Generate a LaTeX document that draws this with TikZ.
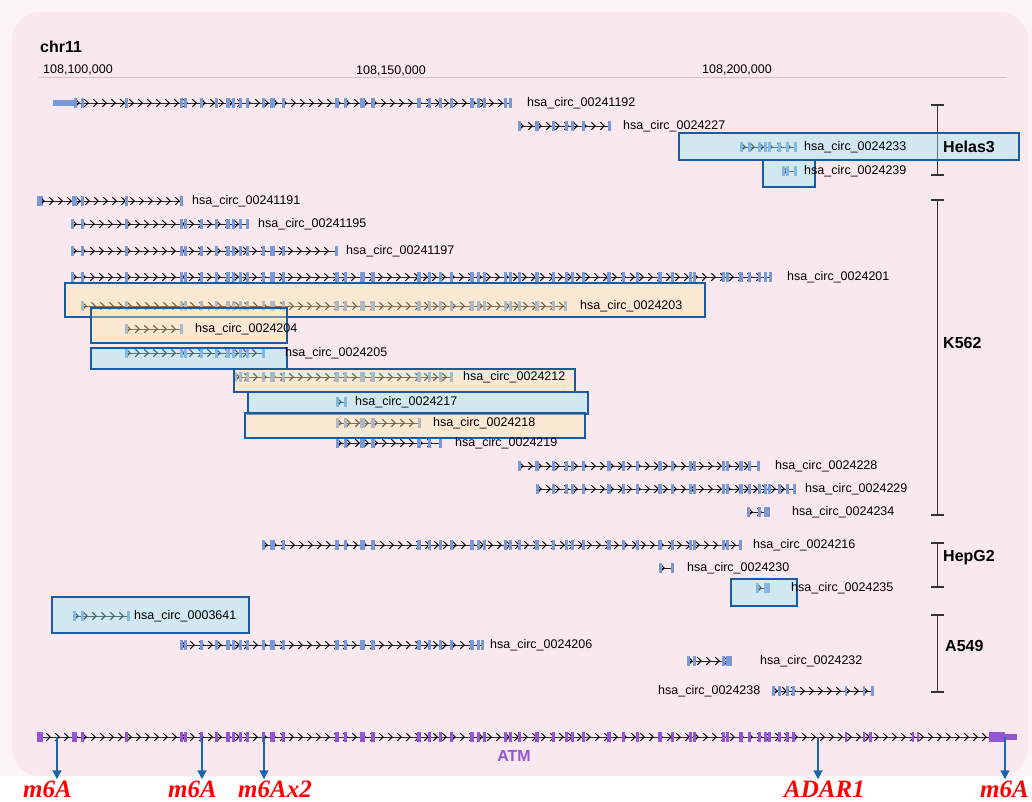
\documentclass[tikz,border=0pt]{standalone}
\usepackage{fontspec}
\setmainfont{Liberation Sans}
\newfontfamily\sitefont{Liberation Serif}
\usetikzlibrary{arrows.meta,decorations.markings}

\definecolor{panelouter}{RGB}{252,244,247}
\definecolor{panelpink}{RGB}{249,233,239}
\definecolor{axisgray}{RGB}{216,192,201}
\definecolor{exonblue}{RGB}{120,152,214}
\definecolor{atmpurple}{RGB}{150,85,210}
\definecolor{boxedge}{RGB}{25,90,160}
\definecolor{boxblue}{RGB}{150,232,246}
\definecolor{boxorange}{RGB}{255,232,170}
\definecolor{sitearrow}{RGB}{30,100,170}

\pgfdeclarelayer{front}
\pgfsetlayers{main,front}

\tikzset{
    track-line/.style = {draw=black!85, line width=0.9pt,
        postaction={decorate, decoration={markings,
            mark=between positions 5pt and -1pt step 9pt with {\arrow[black]{Straight Barb[length=4pt,width=7.5pt,line width=1pt]}}}}},
    exon/.style = {fill=exonblue},
    atm-exon/.style = {fill=atmpurple},
    circ-label/.style = {anchor=west, inner sep=0pt, font=\fontsize{12.5}{14}\selectfont},
    cell-label/.style = {anchor=west, inner sep=0pt, font=\fontsize{16}{18}\selectfont\bfseries},
    axis-label/.style = {anchor=west, inner sep=0pt, font=\fontsize{12.5}{14}\selectfont},
    blue-box/.style = {draw=boxedge, line width=1.4pt, fill=boxblue, fill opacity=0.4},
    orange-box/.style = {draw=boxedge, line width=1.4pt, fill=boxorange, fill opacity=0.4},
    bracket/.style = {draw=black!80, line width=1.6pt},
    site-arrow/.style = {draw=sitearrow, line width=1.5pt, -{Triangle[length=9pt,width=9pt]}},
    site-label/.style = {anchor=base west, inner sep=1pt, text=red, font=\sitefont\bfseries\itshape\fontsize{25}{28}\selectfont},
}

% exon centres / widths along the ATM locus
\newcommand{\atmexons}{74/5,82/3,126/3,181/3,185/3,201/3,216/3,228/4,233/3,240/3,247/3,263/3,272/5,283/3,337/4,345/3,362/5,373/4,419/4,429/3,440/3,451/3,472/4,478/3,484/3,505/3,510/3,519/3,537/4,553/3,566/3,572/3,583/3,609/4,623/3,637/3,660/4,672/3,690/3,694/3,723/3,727/3,741/4,749/3,759/3,765/3,769/3,779/3,787/3,793/3,846/2,864/2,870/3,913/2,918/2}

% #1 id, #2 y, #3 first exon, #4 last exon, #5 label x
\newcommand{\circtrack}[5]{%
    \draw[track-line] (#3,#2) -- (#4,#2);
    \foreach \ex/\w in \atmexons {
        \ifdim \ex pt>\dimexpr #3pt+2pt\relax
            \ifdim \ex pt<\dimexpr #4pt-2pt\relax
                \fill[exon] (\ex-\w/2,#2-5) rectangle (\ex+\w/2,#2+5);
            \fi
        \fi
    }
    \fill[exon] (#3-1.5,#2-5) rectangle (#3+1.5,#2+5);
    \fill[exon] (#4-1.5,#2-5) rectangle (#4+1.5,#2+5);
    \begin{pgfonlayer}{front}
        \node[circ-label] (c#1) at (#5,#2) {hsa\_circ\_#1};
    \end{pgfonlayer}
}

% #1 top, #2 bottom
\newcommand{\cellbracket}[2]{%
    \draw[bracket] (931,#1) -- (944,#1) (937.5,#1) -- (937.5,#2) (931,#2) -- (944,#2);
}

\begin{document}
\begin{tikzpicture}[x=1pt, y=-1pt]
\useasboundingbox (0,0) rectangle (1032,801);
\fill[white] (0,0) rectangle (1032,801);
\fill[panelouter] (0,0) rectangle (1032,776);
\fill[panelpink, rounded corners=28pt] (12,12) rectangle (1028,776);

% chromosome ruler
\node[cell-label] (chrom) at (40,47) {chr11};
\draw[axisgray, line width=1pt] (39,77) -- (1007,77);
\node[axis-label] (pos100) at (43,70) {108,100,000};
\node[axis-label] (pos150) at (356,71) {108,150,000};
\node[axis-label] (pos200) at (702,70) {108,200,000};

% circRNA tracks
\fill[exon] (53,100) rectangle (75,106);
\circtrack{00241192}{103}{75}{510}{527}
\circtrack{0024227}{126}{519}{609}{623}
\circtrack{0024233}{147}{741}{795}{804}
\circtrack{0024239}{171}{783}{795}{804}
\fill[exon] (37,196) rectangle (43,206);
\circtrack{00241191}{201}{40}{181}{192}
\circtrack{00241195}{224}{72}{247}{258}
\circtrack{00241197}{251}{72}{336}{346}
\circtrack{0024201}{277}{72}{770}{787}
\circtrack{0024203}{306}{82}{565}{580}
\circtrack{0024204}{329}{126}{181}{195}
\circtrack{0024205}{353}{126}{263}{285}
\circtrack{0024212}{377}{235}{451}{463}
\circtrack{0024217}{402}{337}{345}{355}
\circtrack{0024218}{423}{337}{419}{433}
\circtrack{0024219}{443}{337}{440}{455}
\circtrack{0024228}{466}{519}{758}{775}
\circtrack{0024229}{489}{537}{794}{805}
\circtrack{0024234}{512}{748}{768}{792}
\circtrack{0024216}{545}{263}{740}{753}
\circtrack{0024230}{568}{660}{672}{687}
\circtrack{0024235}{588}{757}{768}{791}
\circtrack{0003641}{616}{74}{128}{134}
\circtrack{0024206}{645}{181}{482}{490}
\circtrack{0024232}{661}{688}{730}{760}
\circtrack{0024238}{691}{773}{872}{658}

% cell lines
\cellbracket{105}{175}
\cellbracket{200}{515}
\cellbracket{543}{587}
\cellbracket{615}{692}

% highlighted isoforms
\draw[blue-box] (679,133) rectangle (1019,160);
\draw[blue-box] (763,160) rectangle (815,187);
\draw[orange-box] (65,283) rectangle (705,317);
\draw[orange-box] (91,308) rectangle (287,343);
\draw[blue-box] (91,348) rectangle (287,369);
\draw[orange-box] (234,369) rectangle (575,392);
\draw[blue-box] (248,392) rectangle (588,414);
\draw[orange-box] (245,413) rectangle (585,438);
\draw[blue-box] (731,579) rectangle (797,606);
\draw[blue-box] (52,597) rectangle (249,633);

\node[cell-label] (helas) at (943,147) {Helas3};
\node[cell-label] (k562) at (943,343) {K562};
\node[cell-label] (hepg2) at (943,558) {HepG2};
\node[cell-label] (a549) at (945,646) {A549};

% ATM gene
\draw[track-line] (37,737) -- (1004,737);
\foreach \ex/\w in \atmexons {
    \fill[atm-exon] (\ex-\w/2,732) rectangle (\ex+\w/2,742);
}
\fill[atm-exon] (37,732) rectangle (43,742);
\fill[atm-exon] (989,732) rectangle (1005,742);
\fill[atm-exon] (1005,734) rectangle (1017,740);
\node[font=\fontsize{16}{18}\selectfont\bfseries, text=atmpurple, inner sep=0pt] (atm) at (514,756) {ATM};

% modification sites
\coordinate (s1) at (57,737);
\coordinate (s2) at (202,737);
\coordinate (s3) at (264,737);
\coordinate (s4) at (818,737);
\coordinate (s5) at (1005,737);
\node[site-label] (m1) at (22,797) {m6A};
\node[site-label] (m2) at (167,797) {m6A};
\node[site-label] (m3) at (237,797) {m6Ax2};
\node[site-label] (m4) at (783,797) {ADAR1};
\node[site-label] (m5) at (979,797) {m6A};
\draw[site-arrow] (s1) -- (s1 |- m1.north);
\draw[site-arrow] (s2) -- (s2 |- m2.north);
\draw[site-arrow] (s3) -- (s3 |- m3.north);
\draw[site-arrow] (s4) -- (s4 |- m4.north);
\draw[site-arrow] (s5) -- (s5 |- m5.north);
\end{tikzpicture}
\end{document}
